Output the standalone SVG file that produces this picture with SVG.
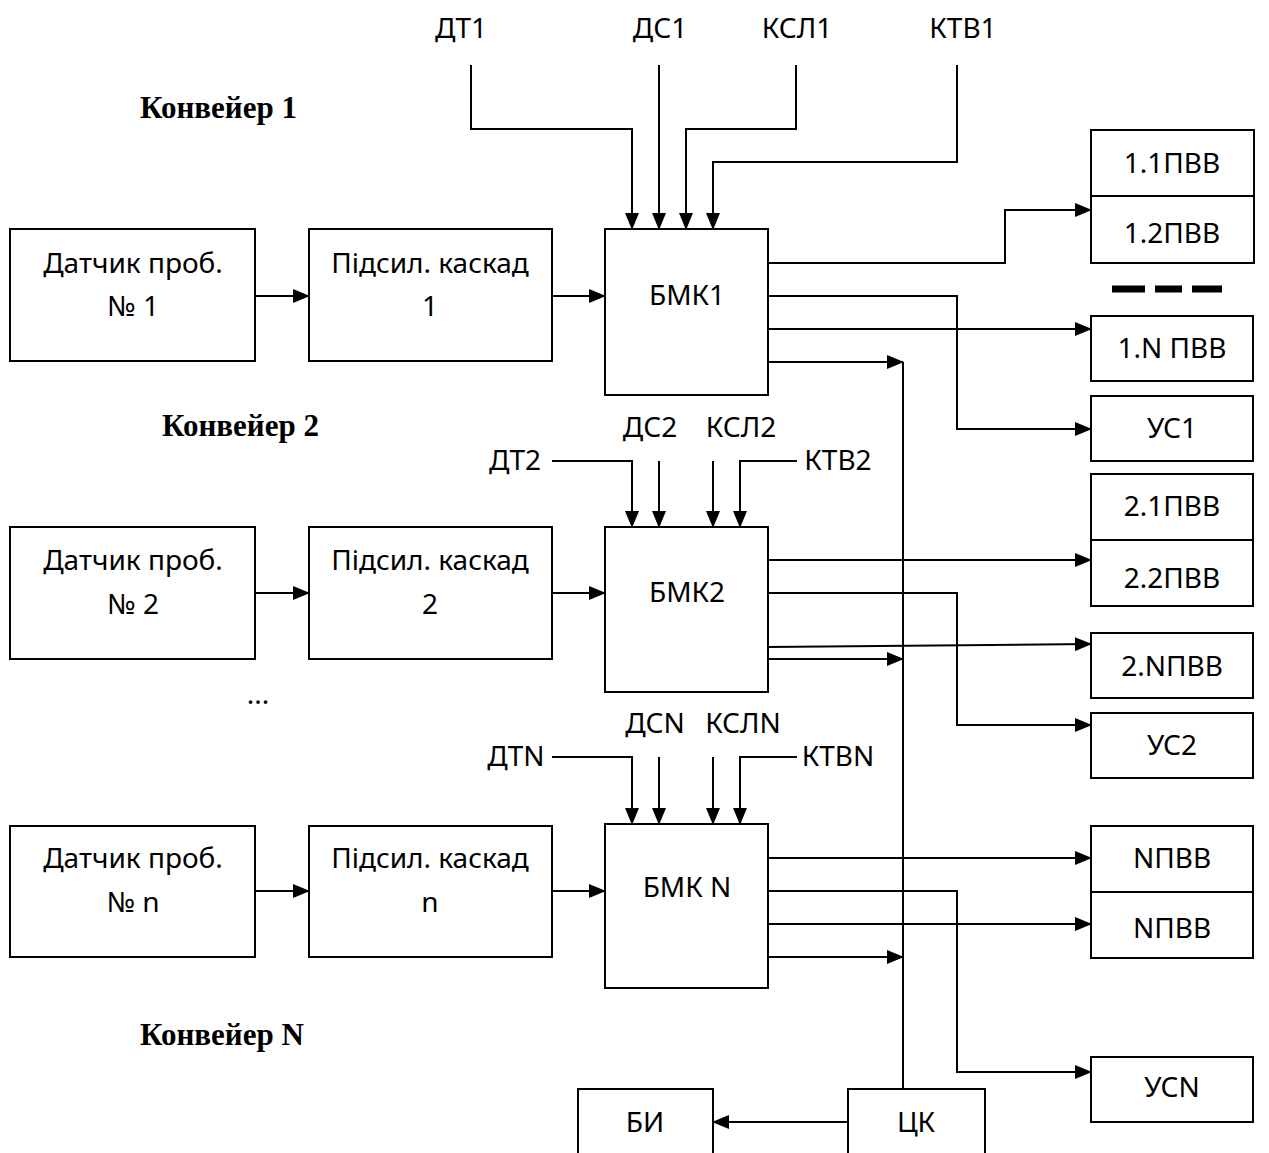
<svg xmlns="http://www.w3.org/2000/svg" width="1269" height="1153" viewBox="0 0 1269 1153">
<style>
.b{fill:#fff;stroke:#000;stroke-width:2}
.t{font-family:"Noto Sans","Open Sans",sans-serif;font-size:28px;fill:#000;text-anchor:middle}
.h{font-family:"Liberation Serif","Times New Roman",serif;font-size:31px;font-weight:bold;fill:#000}
.c{fill:none;stroke:#000;stroke-width:2}
.a{marker-end:url(#ar)}
</style>
<defs>
<marker id="ar" markerUnits="userSpaceOnUse" markerWidth="17" markerHeight="14" refX="16" refY="7" orient="auto">
<path d="M0,0 L17,7 L0,14 z" fill="#000"/>
</marker>
</defs>
<rect width="1269" height="1153" fill="#fff"/>

<g id="labels">
<text class="h" x="140" y="118">Конвейер 1</text>
<text class="h" x="162" y="436">Конвейер 2</text>
<text class="h" x="140" y="1045">Конвейер N</text>
<text class="t" x="461" y="38">ДТ1</text>
<text class="t" x="660" y="38">ДС1</text>
<text class="t" x="797" y="38">КСЛ1</text>
<text class="t" x="963" y="38">КТВ1</text>
<text class="t" x="650" y="437">ДС2</text>
<text class="t" x="741" y="437">КСЛ2</text>
<text class="t" x="515" y="470">ДТ2</text>
<text class="t" x="838" y="470">КТВ2</text>
<text class="t" x="516" y="766">ДТN</text>
<text class="t" x="655" y="733">ДСN</text>
<text class="t" x="743" y="733">КСЛN</text>
<text class="t" x="838" y="766">КТВN</text>
<text class="t" x="258" y="704">...</text>
</g>

<g id="connectors">
<path class="c a" d="M471,65 V129 H632 V229"/>
<path class="c a" d="M659,65 V229"/>
<path class="c a" d="M796,65 V129 H686 V229"/>
<path class="c a" d="M957,65 V162 H713 V229"/>
<path class="c a" d="M255,296 H309"/>
<path class="c a" d="M552,296 H605"/>
<path class="c a" d="M768,263 H1005 V210 H1091"/>
<path class="c a" d="M768,296 H957 V429 H1091"/>
<path class="c a" d="M768,329 H1091"/>
<path class="c a" d="M768,362 H903"/>
<path class="c" d="M903,362 V1089"/>
<path class="c a" d="M552,461 H632 V527"/>
<path class="c a" d="M659,461 V527"/>
<path class="c a" d="M713,461 V527"/>
<path class="c a" d="M797,461 H740 V527"/>
<path class="c a" d="M255,593 H309"/>
<path class="c a" d="M552,593 H605"/>
<path class="c a" d="M768,560 H1091"/>
<path class="c a" d="M768,593 H957 V725 H1091"/>
<path class="c a" d="M768,647 L1091,644"/>
<path class="c a" d="M768,659 H903"/>
<path class="c a" d="M552,757 H632 V824"/>
<path class="c a" d="M659,757 V824"/>
<path class="c a" d="M713,757 V824"/>
<path class="c a" d="M797,757 H740 V824"/>
<path class="c a" d="M255,891 H309"/>
<path class="c a" d="M552,891 H605"/>
<path class="c a" d="M768,858 H1091"/>
<path class="c a" d="M768,891 H957 V1072 H1091"/>
<path class="c a" d="M768,924 H1091"/>
<path class="c a" d="M768,957 H903"/>
<path class="c a" d="M848,1122 H713"/>
<path d="M1112,289 H1145 M1155,289 H1182 M1192,289 H1222" stroke="#000" stroke-width="7" fill="none"/>
</g>

<g id="n-dat1"><rect class="b" x="10" y="229" width="245" height="132"/><text class="t" x="133" y="273">Датчик проб.</text><text class="t" x="133" y="316">№ 1</text></g>
<g id="n-pid1"><rect class="b" x="309" y="229" width="243" height="132"/><text class="t" x="430" y="273">Підсил. каскад</text><text class="t" x="430" y="316">1</text></g>
<g id="n-bmk1"><rect class="b" x="605" y="229" width="163" height="166"/><text class="t" x="687" y="305">БМК1</text></g>

<g id="n-dat2"><rect class="b" x="10" y="527" width="245" height="132"/><text class="t" x="133" y="570">Датчик проб.</text><text class="t" x="133" y="614">№ 2</text></g>
<g id="n-pid2"><rect class="b" x="309" y="527" width="243" height="132"/><text class="t" x="430" y="570">Підсил. каскад</text><text class="t" x="430" y="614">2</text></g>
<g id="n-bmk2"><rect class="b" x="605" y="527" width="163" height="165"/><text class="t" x="687" y="602">БМК2</text></g>

<g id="n-datn"><rect class="b" x="10" y="826" width="245" height="131"/><text class="t" x="133" y="868">Датчик проб.</text><text class="t" x="133" y="912">№ n</text></g>
<g id="n-pidn"><rect class="b" x="309" y="826" width="243" height="131"/><text class="t" x="430" y="868">Підсил. каскад</text><text class="t" x="430" y="912">n</text></g>
<g id="n-bmkn"><rect class="b" x="605" y="824" width="163" height="164"/><text class="t" x="687" y="897">БМК N</text></g>

<g id="n-pvv1"><rect class="b" x="1091" y="130" width="163" height="133"/><line class="c" x1="1091" y1="196" x2="1254" y2="196"/><text class="t" x="1172" y="173">1.1ПВВ</text><text class="t" x="1172" y="243">1.2ПВВ</text></g>
<g id="n-pvv1n"><rect class="b" x="1091" y="316" width="162" height="65"/><text class="t" x="1172" y="358">1.N ПВВ</text></g>
<g id="n-us1"><rect class="b" x="1091" y="396" width="162" height="65"/><text class="t" x="1172" y="438">УС1</text></g>

<g id="n-pvv2"><rect class="b" x="1091" y="474" width="162" height="132"/><line class="c" x1="1091" y1="540" x2="1253" y2="540"/><text class="t" x="1172" y="516">2.1ПВВ</text><text class="t" x="1172" y="588">2.2ПВВ</text></g>
<g id="n-pvv2n"><rect class="b" x="1091" y="633" width="162" height="65"/><text class="t" x="1172" y="676">2.NПВВ</text></g>
<g id="n-us2"><rect class="b" x="1091" y="713" width="162" height="65"/><text class="t" x="1172" y="755">УС2</text></g>

<g id="n-pvvn"><rect class="b" x="1091" y="826" width="162" height="132"/><line class="c" x1="1091" y1="892" x2="1253" y2="892"/><text class="t" x="1172" y="868">NПВВ</text><text class="t" x="1172" y="938">NПВВ</text></g>
<g id="n-usn"><rect class="b" x="1091" y="1057" width="162" height="65"/><text class="t" x="1172" y="1097">УСN</text></g>

<g id="n-ck"><rect class="b" x="848" y="1089" width="137" height="80"/><text class="t" x="916" y="1132">ЦК</text></g>
<g id="n-bi"><rect class="b" x="578" y="1089" width="135" height="80"/><text class="t" x="645" y="1132">БИ</text></g>
</svg>
